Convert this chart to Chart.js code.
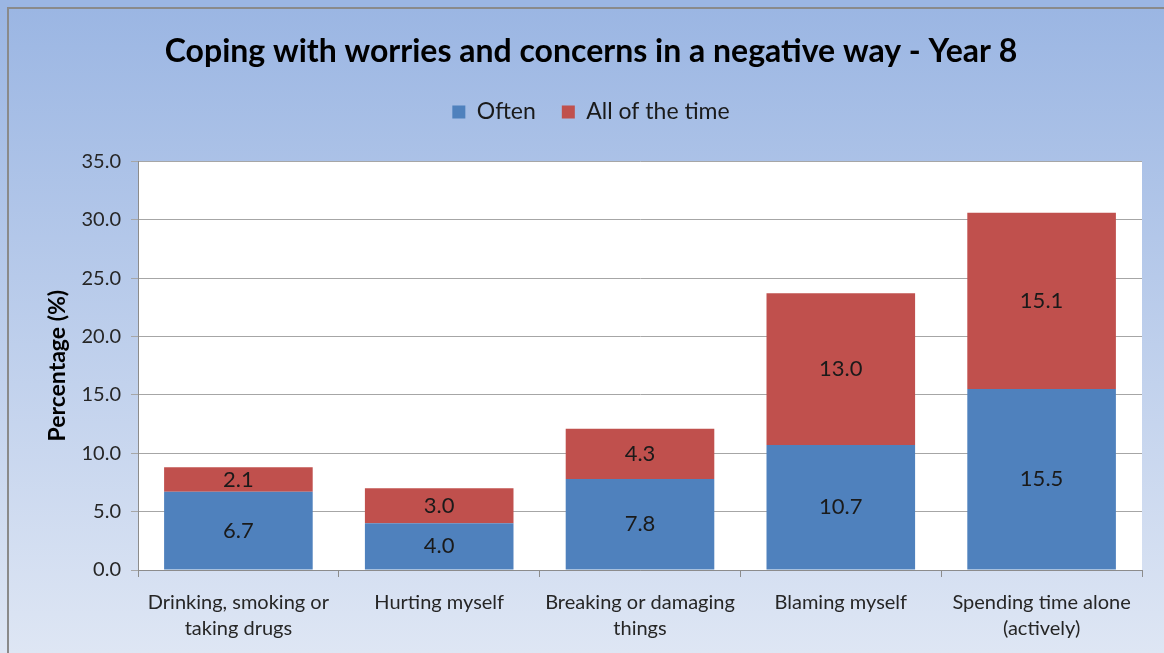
<!DOCTYPE html>
<html>
<head>
<meta charset="utf-8">
<script src="https://cdn.jsdelivr.net/npm/chart.js@4/dist/chart.umd.min.js"></script>
<style>
  html, body { margin: 0; padding: 0; background: #fff; }
  #wrap { width: 1164px; height: 653px; position: relative; }
</style>
</head>
<body>
<div id="wrap"><canvas id="chart"></canvas></div>
<script>
const categories = [
  ['Drinking, smoking or', 'taking drugs'],
  'Hurting myself',
  ['Breaking or damaging', 'things'],
  'Blaming myself',
  ['Spending time alone', '(actively)']
];
const oftenValues = [6.7, 4.0, 7.8, 10.7, 15.5];
const allTimeValues = [2.1, 3.0, 4.3, 13.0, 15.1];
const seriesNames = ['Often', 'All of the time'];

const FONT = 'Lato, "Open Sans", sans-serif';

// gradient panel + gray frame, white plot area
const backdrop = {
  id: 'backdrop',
  beforeDraw(chart) {
    const { ctx, width, height, chartArea: a } = chart;
    ctx.save();
    const g = ctx.createLinearGradient(0, 8, 0, height);
    g.addColorStop(0, '#9bb6e3');
    g.addColorStop(1, '#dee6f4');
    ctx.fillStyle = g;
    ctx.fillRect(0, 0, width, height);
    ctx.strokeStyle = '#8a8a8a';
    ctx.lineWidth = 2;
    ctx.strokeRect(8, 8, width + 20, height + 20);
    ctx.fillStyle = '#ffffff';
    ctx.fillRect(a.left, a.top, a.right - a.left, a.bottom - a.top);
    ctx.restore();
  }
};

// value labels in the middle of each segment
const segmentLabels = {
  id: 'segmentLabels',
  afterDatasetsDraw(chart) {
    const { ctx } = chart;
    ctx.save();
    ctx.font = '22px ' + FONT;
    ctx.fillStyle = '#1a1a1a';
    ctx.textAlign = 'center';
    ctx.textBaseline = 'middle';
    chart.data.datasets.forEach((ds, i) => {
      chart.getDatasetMeta(i).data.forEach((bar, j) => {
        ctx.fillText(ds.data[j].toFixed(1), bar.x, (bar.y + bar.base) / 2);
      });
    });
    ctx.restore();
  }
};

// extra room under the legend
const legendGap = {
  id: 'legendGap',
  beforeInit(chart) {
    const fit = chart.legend.fit;
    chart.legend.fit = function () {
      fit.call(this);
      this.height += 28;
    };
  }
};

new Chart(document.getElementById('chart'), {
  type: 'bar',
  data: {
    labels: categories,
    datasets: [
      { label: seriesNames[0], data: oftenValues, backgroundColor: '#4f81bd' },
      { label: seriesNames[1], data: allTimeValues, backgroundColor: '#c0504d' }
    ]
  },
  options: {
    responsive: true,
    maintainAspectRatio: false,
    animation: false,
    layout: { padding: { left: 40, right: 22, top: 0, bottom: 0 } },
    categoryPercentage: 1,
    barPercentage: 0.74,
    plugins: {
      title: {
        display: true,
        text: 'Coping with worries and concerns in a negative way - Year 8',
        color: '#000',
        font: { family: FONT, size: 32, weight: 'bold' },
        padding: { top: 32, bottom: 4 }
      },
      legend: {
        position: 'top',
        labels: {
          color: '#1a1a1a',
          font: { family: FONT, size: 23 },
          boxWidth: 13,
          boxHeight: 13,
          padding: 26
        }
      },
      tooltip: { enabled: false }
    },
    scales: {
      x: {
        stacked: true,
        grid: { drawOnChartArea: false, drawTicks: true, tickLength: 7, color: '#8c8c8c' },
        border: { color: '#8c8c8c' },
        ticks: {
          color: '#262626',
          font: { family: FONT, size: 20, lineHeight: 1.3 },
          padding: 13,
          maxRotation: 0
        },
        afterFit(scale) { scale.height = 83; }
      },
      y: {
        stacked: true,
        min: 0,
        max: 35,
        ticks: {
          stepSize: 5,
          color: '#262626',
          font: { family: FONT, size: 20 },
          padding: 10,
          callback: v => v.toFixed(1)
        },
        grid: { color: '#a6a6a6', tickLength: 7 },
        border: { color: '#8c8c8c' },
        title: {
          display: true,
          text: 'Percentage (%)',
          color: '#000',
          font: { family: FONT, size: 23, weight: 'bold' }
        },
        afterFit(scale) { scale.width = 98; }
      }
    }
  },
  plugins: [backdrop, segmentLabels, legendGap]
});
</script>
</body>
</html>
